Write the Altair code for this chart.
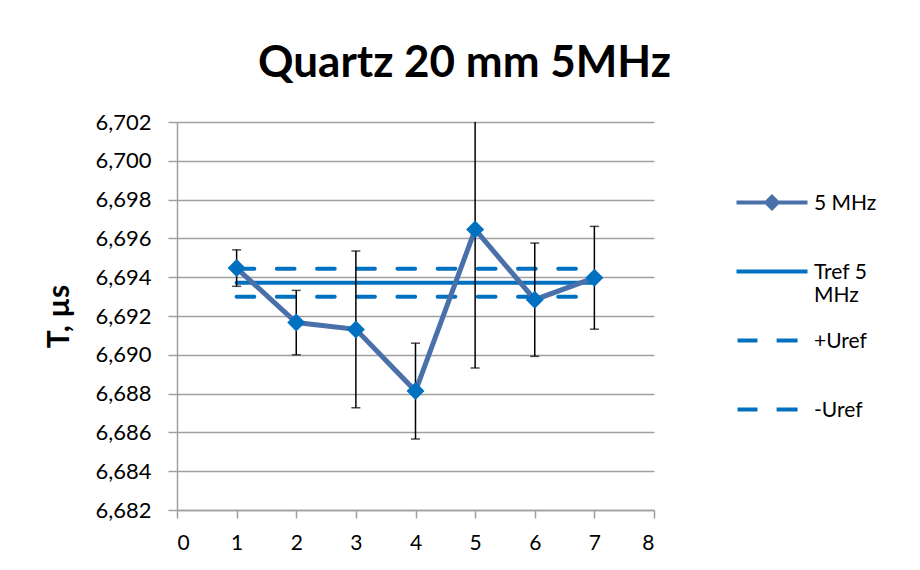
import altair as alt
import pandas as pd

FONT = "Lato"
GRAY = "#a0a0a0"
LINE_BLUE = "#4a70aa"
MARK_BLUE = "#0070C0"

# measured periods (x) and mean transit time T, µs, with uncertainty
points = [1, 2, 3, 4, 5, 6, 7]
t_values = [6.69447, 6.69166, 6.69131, 6.68813, 6.69646, 6.69284, 6.69397]
t_errors = [0.00094, 0.00166, 0.00404, 0.00247, 0.00714, 0.00292, 0.00265]

# reference value and its uncertainty band, drawn from x = 1 to x = 7
ref_names = ["Tref 5 MHz", "+Uref", "-Uref"]
ref_values = [6.69371, 6.69443, 6.69299]
ref_span = [1, 7]

legend_names = ["5 MHz", "Tref 5 MHz", "+Uref", "-Uref"]
legend_colors = [LINE_BLUE, MARK_BLUE, MARK_BLUE, MARK_BLUE]

x_ticks = [0, 1, 2, 3, 4, 5, 6, 7, 8]
y_ticks = [6.682, 6.684, 6.686, 6.688, 6.690, 6.692, 6.694, 6.696, 6.698, 6.700, 6.702]

series = pd.DataFrame({
    "x": points,
    "T": t_values,
    "lo": [v - e for v, e in zip(t_values, t_errors)],
    "hi": [v + e for v, e in zip(t_values, t_errors)],
})
refs = pd.DataFrame(
    [{"series": n, "x": xv, "T": v} for n, v in zip(ref_names, ref_values) for xv in ref_span]
)
legend_df = pd.DataFrame({"series": legend_names})

x_scale = alt.Scale(domain=[0, 8], nice=False)
y_scale = alt.Scale(domain=[6.682, 6.702], nice=False, zero=False)

x_axis = alt.Axis(
    values=x_ticks, grid=False, title=None,
    tickSize=8, tickColor=GRAY, tickWidth=1.5,
    domainColor=GRAY, domainWidth=1.5,
    labelFont=FONT, labelFontSize=21, labelColor="black", labelPadding=14,
)
y_axis = alt.Axis(
    values=y_ticks, grid=True, gridColor=GRAY, gridWidth=1.5,
    tickSize=9, tickColor=GRAY, tickWidth=1.5,
    domainColor=GRAY, domainWidth=1.5,
    labelExpr="replace(format(datum.value, '.3f'), '.', ',')",
    labelOverlap=False,
    labelFont=FONT, labelFontSize=22, labelColor="black", labelPadding=17,
    title="T, µs", titleFont=FONT, titleFontSize=30, titleFontWeight="bold",
    titleColor="black", titlePadding=20,
)

X = alt.X("x:Q", scale=x_scale, axis=x_axis)
Y = alt.Y("T:Q", scale=y_scale, axis=y_axis)
Y_LO = alt.Y("lo:Q", scale=y_scale, axis=y_axis)
Y_HI = alt.Y("hi:Q", scale=y_scale, axis=y_axis)

dash = [17.7, 22.5]
ref_layer = alt.Chart(refs).mark_line(strokeWidth=4, color=MARK_BLUE, strokeCap="round").encode(
    x=X, y=Y,
    detail="series:N",
    strokeDash=alt.StrokeDash(
        "series:N",
        scale=alt.Scale(domain=ref_names, range=[[1, 0], dash, dash]),
        legend=None,
    ),
)

line_layer = alt.Chart(series).mark_line(color=LINE_BLUE, strokeWidth=5).encode(x=X, y=Y)

err_rules = alt.Chart(series).mark_rule(color="black", strokeWidth=1.5, clip=True).encode(
    x=X, y=Y_LO, y2="hi:Q"
)
err_lo = alt.Chart(series).mark_tick(
    color="black", thickness=1.5, size=9, orient="horizontal", clip=True
).encode(x=X, y=Y_LO)
err_hi = alt.Chart(series).mark_tick(
    color="black", thickness=1.5, size=9, orient="horizontal", clip=True
).encode(x=X, y=Y_HI)

markers = alt.Chart(series).mark_point(
    shape="diamond", filled=True, size=324, color=MARK_BLUE, opacity=1
).encode(x=X, y=Y)

# legend symbols as SVG paths, in units of half the symbol size
# (drawn wider than the unit box and shifted down onto the first label line)
k = 1.564
yo = 0.27 * k
def seg(a, b):
    return f"M{a * k:.3f},{yo:.3f}H{b * k:.3f}"
d = 0.16 * k
diamond = f"M0,{yo - d:.3f}L{d:.3f},{yo:.3f}L0,{yo + d:.3f}L{-d:.3f},{yo:.3f}Z"
legend_paths = [
    seg(-1, 1) + diamond,
    seg(-1, 1),
    seg(-0.97, -0.41) + seg(0.13, 0.72),
    seg(-0.97, -0.41) + seg(0.13, 0.72),
]

# every label is laid out on two lines so that all legend rows get the same height
legend = alt.Legend(
    title=None, orient="none", legendX=570, legendY=46, padding=0,
    symbolSize=2061, symbolStrokeWidth=4, symbolOpacity=1, symbolOffset=0,
    labelFont=FONT, labelFontSize=21, labelColor="black", labelOffset=17,
    labelBaseline="top", labelLimit=200, rowPadding=0,
    labelExpr="datum.label == 'Tref 5 MHz' ? ['Tref 5', 'MHz'] : [datum.label, ' ']",
)
legend_layer = alt.Chart(legend_df).transform_filter("false").mark_point(
    filled=True, strokeWidth=4
).encode(
    shape=alt.Shape("series:N", scale=alt.Scale(domain=legend_names, range=legend_paths), legend=legend),
    fill=alt.Fill("series:N", scale=alt.Scale(domain=legend_names, range=legend_colors), legend=legend),
    stroke=alt.Stroke("series:N", scale=alt.Scale(domain=legend_names, range=legend_colors), legend=legend),
)

chart = alt.layer(
    ref_layer, line_layer, err_rules, err_lo, err_hi, markers, legend_layer
).resolve_scale(y="shared").properties(
    width=477,
    height=388,
    title=alt.TitleParams(
        "Quartz 20 mm 5MHz", font=FONT, fontSize=44, fontWeight="bold",
        color="black", anchor="middle", dx=49, offset=25,
    ),
    autosize=alt.AutoSizeParams(type="none"),
    padding={"left": 177, "top": 122, "right": 266, "bottom": 60},
    background="white",
).configure_view(stroke=None).configure_axisY(labelOverlap=False)

chart.save("out.html", embed_options={"renderer": "svg", "actions": False})
